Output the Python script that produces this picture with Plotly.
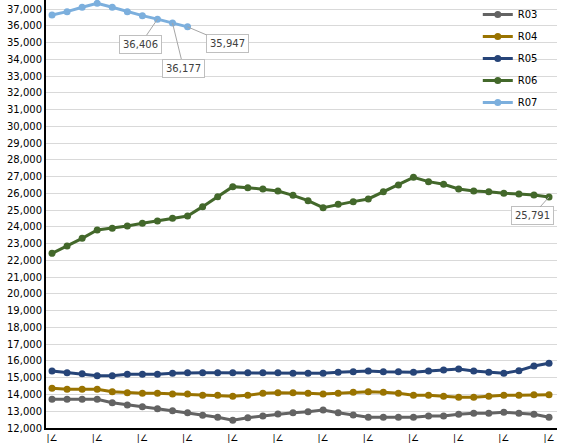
import plotly.graph_objs as go

# period index (34 periods), labels only shown every 3rd period
periods = list(range(34))
tick_positions = [0, 3, 6, 9, 12, 15, 18, 21, 24, 27, 30, 33]
tick_labels = ["|∠"] * 12

series_names = ["R03", "R04", "R05", "R06", "R07"]
r03 = [13711, 13711, 13711, 13711, 13512, 13373, 13274, 13154, 13035, 12915,
       12756, 12637, 12458, 12617, 12716, 12836, 12915, 12975, 13075, 12915,
       12776, 12637, 12637, 12637, 12637, 12716, 12716, 12816, 12876, 12876,
       12935, 12876, 12816, 12637]
r04 = [14368, 14308, 14308, 14308, 14169, 14109, 14070, 14070, 14030, 14030,
       13950, 13950, 13891, 13950, 14070, 14109, 14109, 14070, 14030, 14070,
       14129, 14169, 14129, 14070, 13950, 13950, 13891, 13831, 13831, 13891,
       13950, 13950, 13990, 13990]
r05 = [15403, 15303, 15244, 15124, 15124, 15204, 15204, 15204, 15264, 15303,
       15303, 15303, 15303, 15303, 15303, 15303, 15264, 15264, 15264, 15323,
       15363, 15403, 15363, 15363, 15323, 15403, 15463, 15522, 15403, 15323,
       15264, 15423, 15701, 15861]
r06 = [22428, 22866, 23324, 23821, 23920, 24060, 24219, 24358, 24517, 24657,
       25214, 25811, 26408, 26348, 26269, 26149, 25890, 25572, 25154, 25353,
       25512, 25672, 26109, 26507, 26965, 26706, 26547, 26269, 26149, 26109,
       26010, 25970, 25910, 25791]
r07 = [36657, 36856, 37114, 37353, 37114, 36856, 36617, 36406, 36177, 35947]

colors = {"R03": "#636363", "R04": "#997300", "R05": "#264478",
          "R06": "#43682b", "R07": "#7cafdd"}

# labelled points: (series values, index, text offset x, text offset y)
callouts = [(r07, 7, -17, 25), (r07, 8, 11, 45), (r07, 9, 40, 17), (r06, 33, -17, 19)]

font_name = "DejaVu Sans"

fig = go.Figure()
for name, values in zip(series_names, [r03, r04, r05, r06, r07]):
    fig.add_trace(go.Scatter(
        x=periods[:len(values)],
        y=values,
        name=name,
        mode="lines+markers",
        line=dict(color=colors[name], width=3),
        marker=dict(color=colors[name], size=7),
        cliponaxis=False,
        legendgroup=name,
    ))

for values, idx, ax, ay in callouts:
    fig.add_annotation(
        x=periods[idx], y=values[idx],
        text=f"{values[idx]:,}",
        showarrow=True, arrowhead=0, arrowwidth=1, arrowcolor="#a6a6a6",
        ax=ax, ay=ay,
        bgcolor="white", bordercolor="#bfbfbf", borderwidth=1, borderpad=3,
        font=dict(family=font_name, size=10, color="#404040"),
    )

fig.update_xaxes(
    range=[-0.4, 33.53],
    tickvals=tick_positions,
    ticktext=tick_labels,
    showgrid=False, zeroline=False,
    showline=True, linecolor="black", linewidth=2,
    tickfont=dict(family=font_name, size=9, color="black"),
    ticks="", ticklen=0,
)
fig.update_yaxes(
    range=[12000, 37550],
    dtick=1000, tick0=12000,
    tickformat=",",
    showgrid=True, gridcolor="#d9d9d9", gridwidth=1,
    zeroline=False,
    showline=True, linecolor="black", linewidth=2,
    tickfont=dict(family=font_name, size=10, color="black"),
    ticks="",
)
fig.update_layout(
    width=567, height=446,
    margin=dict(l=46, r=10, t=0, b=18),
    plot_bgcolor="white", paper_bgcolor="white",
    showlegend=True,
    legend=dict(
        x=0.845, y=1.0, xanchor="left", yanchor="top",
        bgcolor="rgba(0,0,0,0)",
        font=dict(family=font_name, size=10, color="black"),
        tracegroupgap=3,
        itemwidth=30,
    ),
)

# page body has a default 8px margin; drop it so the chart fills the window
fig.write_html("out.html", config={"displayModeBar": False},
               post_script="document.body.style.margin='0';")
